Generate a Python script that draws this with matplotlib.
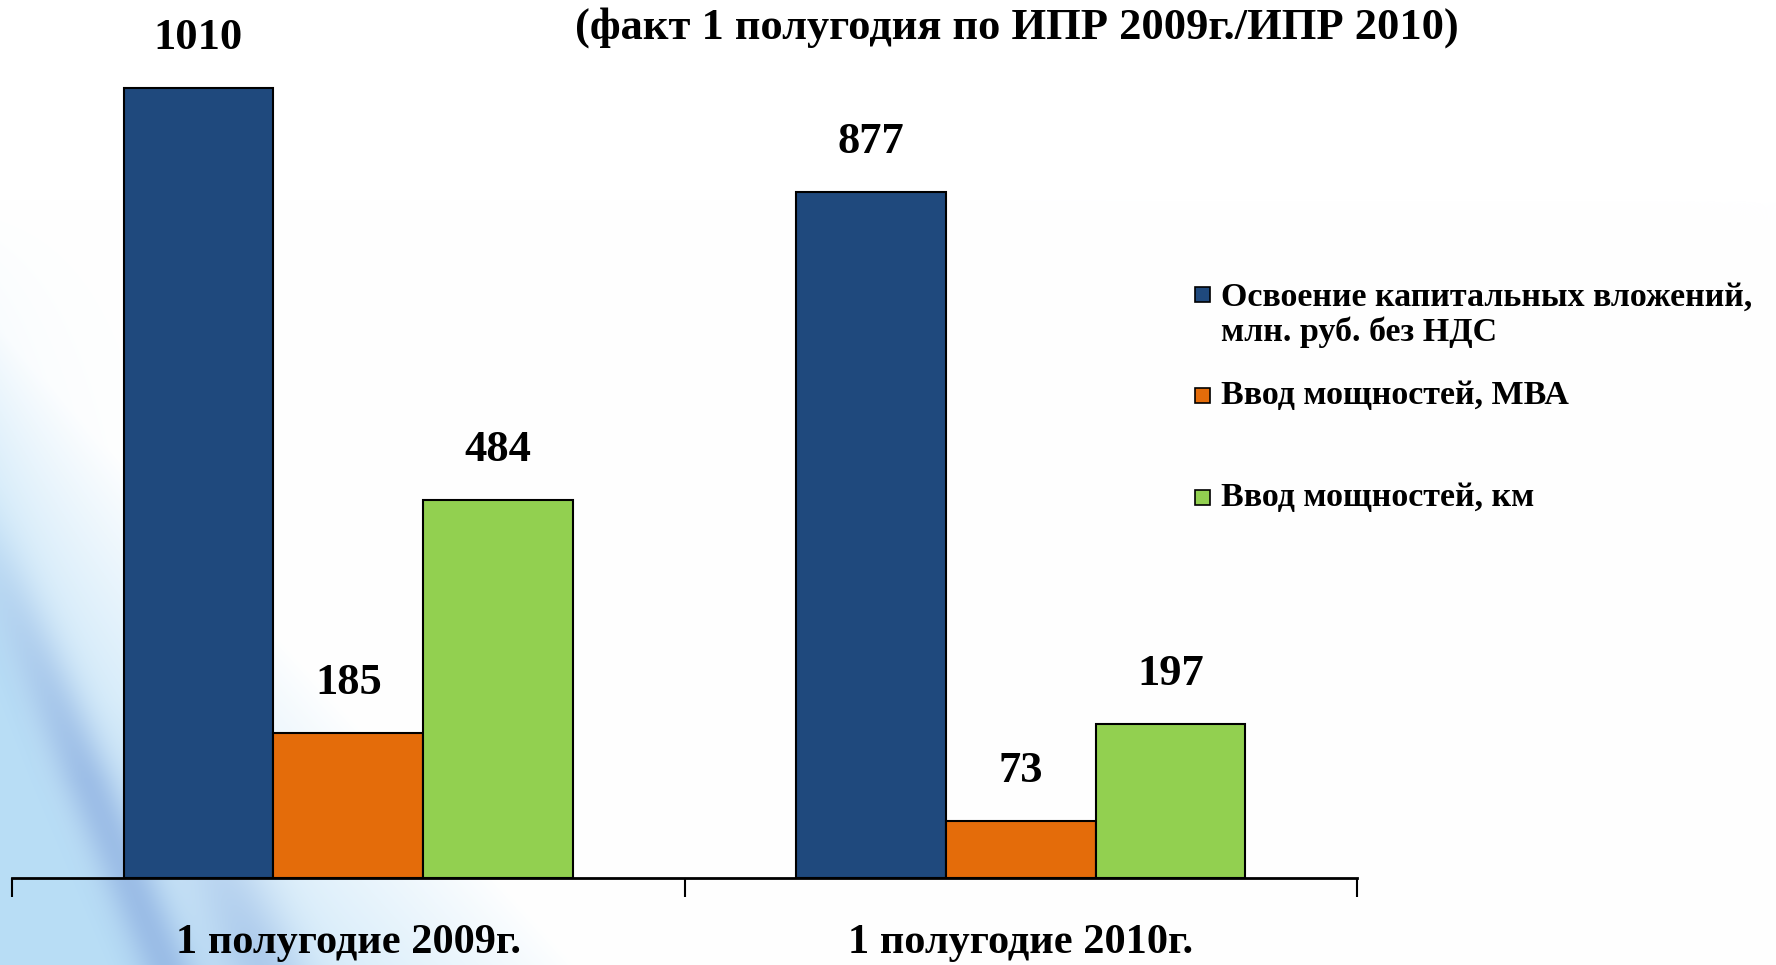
import numpy as np
import matplotlib
matplotlib.use("Agg")
import matplotlib.pyplot as plt
from matplotlib.patches import Rectangle

# DATA
categories = ["1 полугодие 2009г.", "1 полугодие 2010г."]
series_names = ["Освоение капитальных вложений,\nмлн. руб. без НДС",
                "Ввод мощностей, МВА",
                "Ввод мощностей, км"]
capex = [1010, 877]
mva   = [185, 73]
km    = [484, 197]
title_line = "(факт 1 полугодия по ИПР 2009г./ИПР 2010)"

COLORS = ["#1F497D", "#E46C0A", "#92D050"]
FONT = "Liberation Serif"

W, H = 1776, 965
fig = plt.figure(figsize=(W / 100, H / 100), dpi=100)

# background: white with a soft blue wash and streaks bottom-left
yy, xx = np.mgrid[0:H, 0:W].astype(float)
wash = np.clip((yy - 1.1 * xx - 330) / 520, 0, 1) ** 0.9
wash += 0.35 * np.exp(-xx / 60) * np.clip((yy - 200) / 500, 0, 1)
wash = np.clip(wash, 0, 1)
d1 = ((xx - 0) * 320 - (yy - 572) * 134) / np.hypot(320, 134)
streak = np.exp(-(d1 / 28) ** 2) * np.clip((yy - 480) / 300, 0, 1)
d2 = ((xx - 150) * 320 - (yy - 700) * 134) / np.hypot(320, 134)
streak2 = np.exp(-(d2 / 40) ** 2) * np.clip((yy - 700) / 250, 0, 1) * 0.7
light = np.array([185, 222, 246]) / 255
dark = np.array([135, 170, 222]) / 255
img = np.ones((H, W, 3))
img = img * (1 - wash[..., None]) + light * wash[..., None]
s = np.clip(streak + streak2, 0, 1)[..., None] * 0.65
img = img * (1 - s) + dark * s
bg = fig.add_axes([0, 0, 1, 1])
bg.imshow(img, aspect="auto", extent=[0, W, H, 0])
bg.set_xlim(0, W)
bg.set_ylim(H, 0)
bg.axis("off")

# chart axes: baseline at y=878px, categories from x=12 to 1357
x0, x1, base = 12, 1357, 878
px_per_unit = 0.782
ax = fig.add_axes([x0 / W, (H - base) / H, (x1 - x0) / W, base / H])
ax.patch.set_alpha(0)
ax.set_xlim(-0.5, 1.5)
ax.set_ylim(0, base / px_per_unit)

x = np.arange(len(categories))
bw = 0.2228
for i, (vals, col) in enumerate(zip([capex, mva, km], COLORS)):
    bars = ax.bar(x + (i - 1) * bw, vals, bw, color=col, edgecolor="black",
                  linewidth=1.5, zorder=3)
    for b, v in zip(bars, vals):
        ax.annotate(str(v), (b.get_x() + b.get_width() / 2, v),
                    xytext=(0, 36), textcoords="offset points",
                    ha="center", va="center", fontsize=32,
                    fontweight="bold", family=FONT)

for sp in ["top", "right", "left"]:
    ax.spines[sp].set_visible(False)
ax.spines["bottom"].set_linewidth(2)
ax.set_yticks([])
ax.set_xticks([-0.5, 0.5, 1.5])
ax.set_xticklabels([])
ax.tick_params(axis="x", length=14, width=1.5, direction="out")
for xi, lab in zip(x, categories):
    ax.text(xi, -65 / px_per_unit, lab, ha="center", va="center",
            fontsize=30.5, fontweight="bold", family=FONT)

# title (second line; first line is cut off above the frame)
fig.text(1017 / W, 1 - 28 / H, title_line, ha="center", va="center",
         fontsize=32, fontweight="bold", family=FONT)

# legend drawn by hand
legend_y = [315, 396, 498]
for name, col, ly in zip(series_names, COLORS, legend_y):
    my = 295 if "\n" in name else ly
    fig.patches.append(Rectangle((1195 / W, 1 - (my + 7) / H), 15 / W, 15 / H,
                                 transform=fig.transFigure, facecolor=col,
                                 edgecolor="black", linewidth=1.2))
    fig.text(1221 / W, 1 - ly / H, name, ha="left", va="center",
             fontsize=24.5, fontweight="bold", family=FONT, linespacing=1.15)

plt.savefig("out.png", dpi=100)
